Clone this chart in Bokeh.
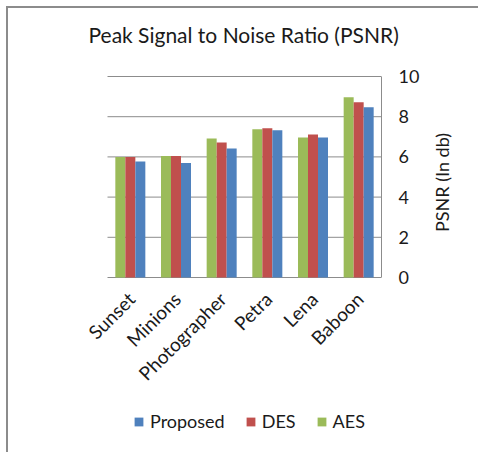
from bokeh.plotting import figure
from bokeh.models import Range1d, Legend, LegendItem
from bokeh.embed import file_html
from bokeh.resources import INLINE
import math

# PSNR (dB) per test image
images = ["Sunset", "Minions", "Photographer", "Petra", "Lena", "Baboon"]
aes = [6.0, 6.05, 6.92, 7.37, 6.97, 8.97]
des = [6.0, 6.05, 6.72, 7.43, 7.12, 8.72]
proposed = [5.77, 5.7, 6.42, 7.32, 6.97, 8.47]
y_ticks = [0, 2, 4, 6, 8, 10]

FONT = "Lato"
GRID = "#8c8c8c"
TXT = "#1a1a1a"

# Layout: one slot per image, 274/6 px wide; 20.1 px per dB.  The frame is
# stretched left, up and down so the slanted names and the legend fit in it.
PX_PER_SLOT = 274 / 6
PX_PER_DB = 20.1
LEFT_PAD = 24
slot = list(range(len(images)))
n = len(images)

p = figure(
    frame_width=274 + LEFT_PAD, frame_height=417,
    x_range=Range1d(-0.5 - LEFT_PAD / PX_PER_SLOT, n - 0.5),
    y_range=Range1d(-163 / PX_PER_DB, 10 + 53 / PX_PER_DB),
    x_axis_location=None, y_axis_location="right",
    output_backend="svg", toolbar_location=None,
    min_border_left=99 - LEFT_PAD, min_border_right=97,
    min_border_top=15, min_border_bottom=12,
)
p.styles = {"margin-left": "6px", "margin-top": "6px",
            "border-left": "2px solid #8c8c8c", "border-top": "2px solid #8c8c8c"}

p.title.text = "Peak Signal to Noise Ratio (PSNR)"
p.title.text_font = FONT
p.title.text_font_size = "21px"
p.title.text_font_style = "normal"
p.title.text_color = TXT
p.title.align = "left"
p.title.offset = 5
p.title.standoff = -46

p.outline_line_color = None
p.background_fill_color = None
p.xgrid.visible = False
p.ygrid.visible = False

# horizontal gridlines across the six image slots (the 0 line is the base line)
p.segment(x0=-0.5, x1=n - 0.5, y0=y_ticks, y1=y_ticks, line_color=GRID, line_width=1)

w = 0.219
series = [("AES", aes, "#9bbb59", -w), ("DES", des, "#c0504d", 0.0),
          ("Proposed", proposed, "#4f81bd", w)]
renderers = {}
for name, vals, col, off in series:
    renderers[name] = p.vbar(x=[s + off for s in slot], top=vals, bottom=0, width=w,
                             fill_color=col, line_color=None)

# image names, slanted, hanging under the base line
p.text(x=slot, y=[0] * n, text=images, angle=math.pi / 4,
       text_align="right", text_baseline="middle", x_offset=1, y_offset=18,
       text_font={"value": FONT}, text_font_size="19px", text_color=TXT)

ya = p.yaxis[0]
ya.ticker = y_ticks
ya.bounds = (0, 10)
ya.axis_line_color = GRID
ya.major_tick_line_color = None
ya.minor_tick_line_color = None
ya.major_label_text_font = FONT
ya.major_label_text_font_size = "18px"
ya.major_label_text_color = TXT
ya.major_label_standoff = 11
ya.axis_label = "PSNR (In db)"
ya.axis_label_orientation = math.pi / 2
ya.axis_label_text_font = FONT
ya.axis_label_text_font_size = "18px"
ya.axis_label_text_font_style = "normal"
ya.axis_label_text_color = TXT
ya.axis_label_standoff = 20

legend = Legend(
    items=[LegendItem(label="Proposed", renderers=[renderers["Proposed"]]),
           LegendItem(label="DES", renderers=[renderers["DES"]]),
           LegendItem(label="AES", renderers=[renderers["AES"]])],
    orientation="horizontal", location=(50, 8),
    glyph_width=11, glyph_height=11, label_standoff=6, spacing=20,
    padding=0, margin=0, border_line_color=None, background_fill_alpha=0,
    label_text_font=FONT, label_text_font_size="18px", label_text_color=TXT,
)
p.add_layout(legend, "center")

open("out.html", "w").write(file_html(p, INLINE))
